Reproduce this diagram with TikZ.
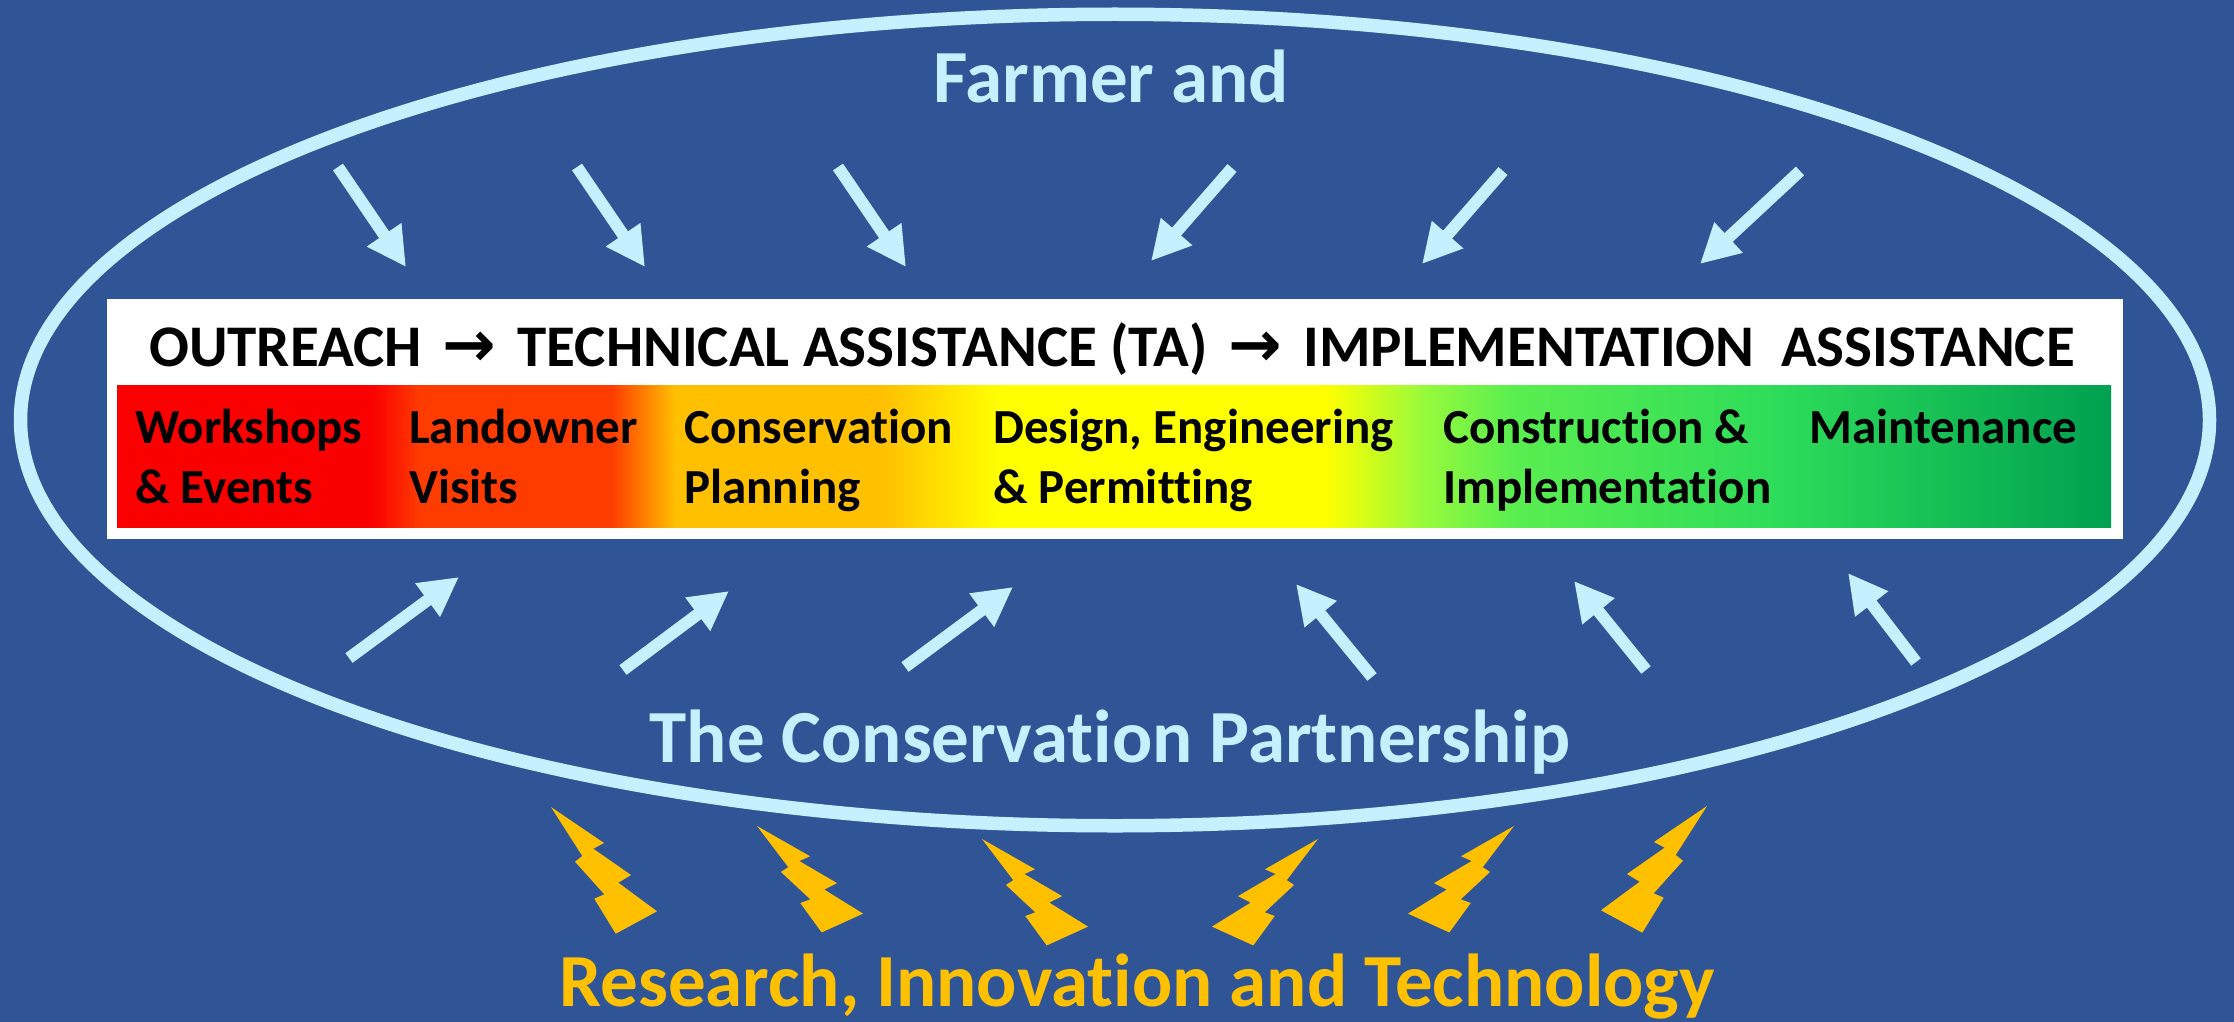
\documentclass[tikz,border=0pt]{standalone}
\usepackage{fontspec}
\setmainfont{Carlito}[Ligatures={NoCommon,NoRare,NoContextual}]
\newfontfamily\arrfont{DejaVu Sans}
\usetikzlibrary{arrows.meta}
\definecolor{bgblue}{RGB}{47,85,151}
\definecolor{lcyan}{RGB}{197,240,255}
\definecolor{gold}{RGB}{255,192,0}
\definecolor{ca}{RGB}{250,0,0}
\definecolor{cb}{RGB}{255,60,0}
\definecolor{cc}{RGB}{255,192,0}
\definecolor{cd}{RGB}{255,255,0}
\definecolor{ce}{RGB}{150,250,60}
\definecolor{cf}{RGB}{90,238,80}
\definecolor{cg}{RGB}{45,220,90}
\definecolor{ch}{RGB}{0,160,80}
\pgfdeclarehorizontalshading{barshade}{100bp}{color(0bp)=(ca); color(25bp)=(ca); color(31.4bp)=(ca); color(32.6bp)=(cb); color(37.4bp)=(cb); color(39bp)=(cc); color(44.2bp)=(cc); color(47.1bp)=(cd); color(55.3bp)=(cd); color(57.8bp)=(ce); color(60bp)=(cf); color(66.7bp)=(cg); color(75bp)=(ch); color(100bp)=(ch)}
\tikzset{
  bigtxt/.style={inner sep=0pt, font=\fontsize{75}{90}\selectfont\bfseries},
  headtxt/.style={inner sep=0pt, anchor=base, font=\fontsize{59}{70}\selectfont\bfseries},
  bartxt/.style={inner sep=0pt, anchor=base west, align=left, font=\fontsize{49}{60}\selectfont\bfseries},
  bluearrow/.style={draw=lcyan, line width=12pt, -{Triangle[length=39pt,width=39pt]}},
}
\newcommand\hdarrow{{\arrfont\bfseries\fontsize{64}{60}\selectfont →}}
\newcommand\boltshape[4]{%
  \fill[gold, shift={(#1,#2)}, xscale=#3, yscale=#4] (0,0) -- (53,36) -- (42.3,41.7) -- (80,68) -- (67.3,75.7) -- (106,104.3) -- (64.7,126.7) -- (43.3,91.7) -- (53.3,87.3) -- (24,54.7) -- (31.3,49) -- cycle;}
\begin{document}
\begin{tikzpicture}[x=1pt,y=-1pt]
\useasboundingbox (0,0) rectangle (2234,1022);
\fill[bgblue] (0,0) rectangle (2234,1022);
% ellipse
\draw[lcyan, line width=13.5pt] (1115,420) ellipse [x radius=1094.5pt, y radius=405.75pt];
% white box and bar
\node[fill=white, inner sep=0pt, minimum width=2016pt, minimum height=240pt] (box) at (1115,419) {};
\shade[shading=barshade] (117,385) rectangle (2111,527);
\node[bartxt] (l1) at (135,503) {Workshops\\\& Events};
\node[bartxt] (l2) at (409,503) {Landowner\\Visits};
\node[bartxt] (l3) at (684,503) {Conservation\\Planning};
\node[bartxt] (l4) at (993,503) {Design, Engineering\\\& Permitting};
\node[bartxt] (l5) at (1443,503) {Construction \&\\Implementation};
\node[bartxt] (l6) at (1809,443) {Maintenance};
% header
\node[headtxt] (head) at (1112,366) {OUTREACH\hspace{0.36em}\hdarrow\hspace{0.36em}TECHNICAL ASSISTANCE (TA)\hspace{0.36em}\hdarrow\hspace{0.36em}IMPLEMENTATION\hspace{0.45em}ASSISTANCE};
% titles
\node[bigtxt, text=lcyan, anchor=base] (farmer) at (1111,103) {Farmer and};
\node[bigtxt, text=lcyan, anchor=base] (partner) at (1110,762) {The Conservation Partnership};
\node[bigtxt, text=gold, anchor=base] (research) at (1137,1006) {Research, Innovation and Technology};
% top arrows
\coordinate (ta1) at (338,167); \coordinate (tb1) at (406,267);
\coordinate (ta2) at (577,167); \coordinate (tb2) at (645,267);
\coordinate (ta3) at (838,167); \coordinate (tb3) at (906,267);
\coordinate (ta4) at (1232,168); \coordinate (tb4) at (1151,261);
\coordinate (ta5) at (1503,171); \coordinate (tb5) at (1422,264);
\coordinate (ta6) at (1800,171); \coordinate (tb6) at (1700,264);
\foreach \i in {1,...,6} {\draw[bluearrow] (ta\i) -- (tb\i);}
% bottom arrows
\coordinate (ba1) at (349,658); \coordinate (bb1) at (459,577);
\coordinate (ba2) at (623,670); \coordinate (bb2) at (729,591);
\coordinate (ba3) at (905,667); \coordinate (bb3) at (1013,587);
\coordinate (ba4) at (1372,677); \coordinate (bb4) at (1296,584);
\coordinate (ba5) at (1646,670); \coordinate (bb5) at (1574,581);
\coordinate (ba6) at (1916,662); \coordinate (bb6) at (1848,573);
\foreach \i in {1,...,6} {\draw[bluearrow] (ba\i) -- (bb\i);}
% bolts
\boltshape{551}{807}{1}{1}
\boltshape{757}{826}{1}{0.84}
\boltshape{982}{839}{1}{0.84}
\boltshape{1318}{839}{-1}{0.84}
\boltshape{1514}{826}{-1}{0.84}
\boltshape{1707}{806}{-1}{1}
\end{tikzpicture}
\end{document}
